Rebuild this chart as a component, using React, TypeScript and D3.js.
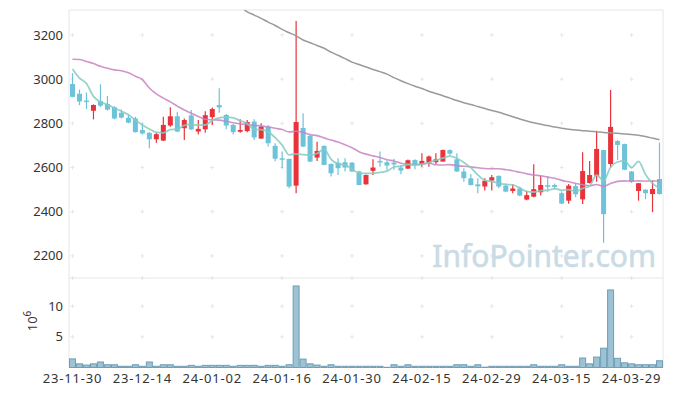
import React from "react";
import * as d3 from "d3";

const opens = [2978,2934,2903,2857,2901,2888,2873,2848,2825,2822,2770,2757,2728,2722,2790,2832,2778,2836,2763,2773,2828,2883,2838,2793,2762,2765,2808,2731,2785,2698,2642,2639,2518,2779,2743,2645,2698,2616,2622,2624,2622,2582,2524,2585,2630,2624,2622,2600,2595,2634,2615,2622,2624,2627,2679,2637,2582,2551,2524,2514,2541,2562,2518,2494,2505,2455,2468,2488,2520,2521,2484,2450,2516,2456,2530,2563,2679,2616,2720,2706,2582,2494,2500,2480,2548];
const highs = [3027,2953,2940,2886,2977,2924,2877,2863,2841,2830,2800,2760,2758,2830,2873,2852,2822,2860,2815,2855,2872,2959,2842,2797,2818,2815,2818,2800,2792,2710,2672,2640,3263,2846,2748,2717,2700,2618,2642,2642,2625,2585,2568,2638,2672,2632,2640,2612,2636,2637,2665,2655,2665,2682,2682,2665,2597,2571,2551,2551,2566,2565,2528,2524,2513,2494,2615,2563,2560,2528,2492,2526,2529,2669,2630,2766,2680,2951,2725,2708,2584,2530,2501,2541,2713];
const lows = [2918,2882,2865,2818,2874,2858,2818,2822,2800,2758,2750,2687,2712,2720,2785,2760,2725,2770,2750,2757,2792,2848,2773,2750,2757,2760,2725,2730,2695,2628,2597,2506,2484,2693,2625,2630,2610,2559,2566,2582,2580,2520,2522,2566,2604,2586,2590,2570,2594,2592,2604,2604,2615,2627,2655,2580,2536,2519,2484,2496,2496,2506,2488,2484,2470,2452,2466,2473,2490,2500,2435,2436,2466,2435,2528,2536,2260,2600,2634,2588,2530,2450,2457,2398,2478];
const closes = [2920,2899,2900,2883,2880,2862,2822,2826,2803,2760,2754,2728,2751,2793,2832,2763,2815,2773,2775,2837,2865,2872,2790,2760,2770,2806,2736,2785,2710,2640,2637,2514,2806,2695,2627,2675,2612,2574,2597,2600,2582,2521,2566,2600,2623,2609,2614,2586,2633,2615,2630,2650,2637,2679,2663,2582,2552,2521,2515,2540,2556,2514,2491,2505,2473,2475,2502,2521,2513,2512,2437,2518,2479,2584,2566,2684,2389,2784,2702,2590,2535,2529,2484,2503,2480];
// volume in millions
const volumes = [1.4,0.6,0.4,0.6,0.9,0.45,0.45,0.2,0.2,0.45,0.2,0.9,0.2,0.45,0.45,0.2,0.2,0.35,0.2,0.35,0.35,0.35,0.35,0.2,0.35,0.35,0.35,0.2,0.35,0.35,0.2,0.45,13.3,1.37,0.6,0.4,0.2,0.45,0.2,0.2,0.2,0.2,0.2,0.2,0.2,0.03,0.45,0.2,0.45,0.2,0.2,0.2,0.2,0.2,0.2,0.45,0.45,0.2,0.45,0.05,0.2,0.2,0.2,0.2,0.2,0.2,0.45,0.2,0.2,0.2,0.45,0.2,0.2,1.55,0.6,1.7,3.15,12.65,1.5,0.77,0.6,0.45,0.45,0.45,1.1];
// moving-average values before enough closes are available
const ma5Lead = [3046,3005,2980,2922];
const ma20Lead = [3090,3089,3080,3071,3058,3049,3042,3038,3029,3013,2998,2960,2933,2914,2897,2878,2860,2846,2831];
// long moving average, starting at index 24
const maLongStart = 24;
const maLong = [3330,3305,3290,3275,3258,3243,3225,3210,3196,3177,3165,3152,3140,3122,3108,3093,3077,3066,3055,3044,3034,3023,3007,2993,2980,2968,2958,2945,2935,2925,2914,2903,2893,2885,2876,2867,2858,2850,2840,2830,2820,2811,2803,2796,2790,2783,2778,2773,2770,2767,2764,2762,2759,2757,2755,2752,2749,2746,2740,2733,2726];
const tickIdx = [0,10,20,30,40,50,60,70,80];
const tickLabels = ["23-11-30","23-12-14","24-01-02","24-01-16","24-01-30","24-02-15","24-02-29","24-03-15","24-03-29"];
const priceTicks = [2200,2400,2600,2800,3000,3200];
const volTicks = [5,10];

const W = 673, H = 396;
const L = 69, R = 663, T = 10, MID = 278, B = 367.5;
const UP = "#e8333b", DOWN = "#6dc3d9";
const FONT = "'Noto Sans', 'DejaVu Sans', sans-serif";

function movingAvg(n: number, lead: number[]) {
  return closes.map((_, i) => i < n - 1 ? lead[i] : d3.mean(closes.slice(i - n + 1, i + 1)) as number);
}

export default function App() {
  const n = closes.length;
  const x = d3.scaleBand<number>().domain(d3.range(n)).range([L, R]).padding(0);
  const cx = (i: number) => (x(i) as number) + x.bandwidth() / 2;
  const y = d3.scaleLinear().domain([2100, 3313]).range([MID, T]);
  const yv = d3.scaleLinear().domain([0, 14.6]).range([B, MID]);
  const ma5 = movingAvg(5, ma5Lead);
  const ma20 = movingAvg(20, ma20Lead);
  const line = d3.line<number>().x((_, i) => cx(i)).y(d => y(d)).curve(d3.curveMonotoneX);
  const lineLong = d3.line<number>().x((_, i) => cx(i + maLongStart)).y(d => y(d)).curve(d3.curveMonotoneX);
  const bw = 5;
  const crossY = [...priceTicks.map(v => y(v)), MID, ...volTicks.map(v => yv(v))];
  return (
    <svg width={W} height={H} style={{ position: "absolute", left: 0, top: 0, background: "#fff" }} fontFamily={FONT}>
      <defs>
        <clipPath id="pc"><rect x={L} y={T} width={R - L} height={MID - T} /></clipPath>
      </defs>
      {/* frame */}
      <line x1={L} x2={R} y1={T} y2={T} stroke="#e6e6e6" />
      <line x1={L} x2={R} y1={MID} y2={MID} stroke="#e6e6e6" />
      <line x1={L} x2={L} y1={T} y2={B} stroke="#e6e6e6" />
      <line x1={R} x2={R} y1={T} y2={B} stroke="#e6e6e6" />
      {/* grid crosses */}
      {tickIdx.map(ti => crossY.map((cy, k) => (
        <g key={ti + "-" + k} stroke="#e6e6e6" strokeWidth={1}>
          <line x1={cx(ti) - 2} x2={cx(ti) + 2} y1={cy} y2={cy} />
          <line x1={cx(ti)} x2={cx(ti)} y1={cy - 2} y2={cy + 2} />
        </g>
      )))}
      {/* watermark */}
      <text x={656} y={267} textAnchor="end" fontSize={30} fill="#c9dbe5" stroke="#c9dbe5" strokeWidth={0.6} fontFamily={FONT}>InfoPointer.com</text>
      {/* candles */}
      <g clipPath="url(#pc)">
        {closes.map((c, i) => {
          const o = opens[i];
          const col = c >= o ? UP : DOWN;
          const top = y(Math.max(o, c)), bot = y(Math.min(o, c));
          return (
            <g key={i}>
              <line x1={cx(i)} x2={cx(i)} y1={y(highs[i])} y2={y(lows[i])} stroke={col} strokeWidth={1.2} />
              <rect x={cx(i) - bw / 2} y={top} width={bw} height={Math.max(1.5, bot - top)} fill={col} />
            </g>
          );
        })}
        <path d={lineLong(maLong) as string} fill="none" stroke="#9a9a9a" strokeWidth={1.5} />
        <path d={line(ma20) as string} fill="none" stroke="#c982c2" strokeWidth={1.6} strokeOpacity={0.85} />
        <path d={line(ma5) as string} fill="none" stroke="#86cbc0" strokeWidth={1.8} strokeOpacity={0.85} />
      </g>
      {/* volume */}
      {volumes.map((v, i) => (
        <rect key={i} x={(x(i) as number) + 0.5} y={yv(v)} width={x.bandwidth() - 1} height={B - yv(v)} fill="#9cc2d3" stroke="#6f9fb6" strokeWidth={1} />
      ))}
      {/* y labels */}
      {priceTicks.map(v => (
        <text key={v} x={63} y={y(v)} dy="0.35em" textAnchor="end" fontSize={13} fill="#333">{v}</text>
      ))}
      {volTicks.map(v => (
        <text key={v} x={63} y={yv(v)} dy="0.35em" textAnchor="end" fontSize={13} fill="#333">{v}</text>
      ))}
      <text transform="translate(37,321) rotate(-90)" textAnchor="middle" fontSize={13} fill="#333">10<tspan dy="-6" fontSize={10}>6</tspan></text>
      {/* x labels */}
      {tickIdx.map((ti, k) => (
        <text key={ti} x={cx(ti)} y={378} dy="0.35em" textAnchor="middle" fontSize={13} letterSpacing={0.8} fill="#333">{tickLabels[k]}</text>
      ))}
    </svg>
  );
}
